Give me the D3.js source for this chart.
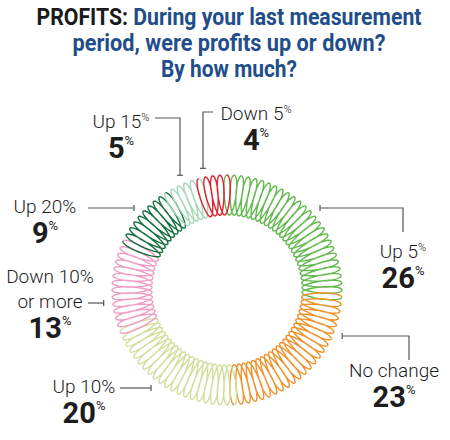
<!DOCTYPE html>
<html>
<head>
<meta charset="UTF-8">
<script src="https://d3js.org/d3.v7.min.js"></script>
<style>html,body{margin:0;padding:0;background:#fff;}</style>
</head>
<body>
<div id="container"></div>
<script>
// data, clockwise from 12 o'clock
const categories = ["Up 5%", "No change", "Up 10%", "Down 10% or more", "Up 20%", "Up 15%", "Down 5%"];
const values = [26, 23, 20, 13, 9, 5, 4];
const colors = ["#63b94f", "#f0922b", "#cfe09e", "#f09cc4", "#17703f", "#a8d8b8", "#e3212f"];
const titleLines = ["During your last measurement", "period, were profits up or down?", "By how much?"];

const width = 450, height = 440;
const cx = 227, cy = 290;
const inner = 75, outer = 115;
const loops = 100;     // one coil per percent
const sway = 4.5;      // sideways swing of each coil (px)

// label placement (text lines, and leader drawn toward the ring)
const labelLayout = [
  {x: 403, y: 258, lines: [["Up 5", true]], leader: [[403, 232], [403, 208]], to: "h"},
  {x: 394, y: 377, lines: [["No change", false]], leader: [[409, 360], [409, 336]], to: "h"},
  {x: 84, y: 393, lines: [["Up 10%", false]], leader: [[120, 388]], to: "h"},
  {x: 50, y: 283, lines: [["Down 10%", false], ["or more", false]], leader: [[88, 303]], to: "h"},
  {x: 45, y: 213, lines: [["Up 20%", false]], leader: [[88, 208]], to: "h"},
  {x: 121, y: 128, lines: [["Up 15", true]], leader: [[155, 118], [180, 118]], to: "v"},
  {x: 256, y: 120, lines: [["Down 5", true]], leader: [[213, 112], [203, 112]], to: "v"}
];

const svg = d3.select("#container").append("svg")
  .attr("width", width)
  .attr("height", height)
  .style("font-family", "Roboto, 'Open Sans', sans-serif");

// title
const title = svg.append("g");
const t1 = title.append("text").attr("x", 229).attr("y", 25)
  .attr("text-anchor", "middle").attr("font-size", 23).attr("font-weight", 700)
  .attr("textLength", 385).attr("lengthAdjust", "spacingAndGlyphs");
t1.append("tspan").attr("fill", "#1a1a1a").text("PROFITS: ");
t1.append("tspan").attr("fill", "#1f4e8a").text(titleLines[0]);
[[titleLines[1], 51, 313], [titleLines[2], 77, 136]].forEach(function (l) {
  title.append("text").attr("x", 229).attr("y", l[1])
    .attr("text-anchor", "middle").attr("font-size", 23).attr("font-weight", 700)
    .attr("fill", "#1f4e8a")
    .attr("textLength", l[2]).attr("lengthAdjust", "spacingAndGlyphs")
    .text(l[0]);
});

// coil ring
const pie = d3.pie().sort(null).startAngle(0).endAngle(2 * Math.PI);
const arcs = pie(values);
const rScale = d3.scaleLinear().domain([-1, 1]).range([inner, outer]);
const rMid = (inner + outer) / 2;
const coil = d3.lineRadial()
  .angle(d => d.a)
  .radius(d => d.r)
  .curve(d3.curveLinear);

function coilPoints(a0, a1) {
  const pts = [];
  const n = Math.ceil((a1 - a0) / (2 * Math.PI) * loops * 48);
  for (let i = 0; i <= n; i++) {
    const t = a0 + (a1 - a0) * i / n;
    const ph = loops * t;
    pts.push({a: t - (sway / rMid) * Math.sin(ph), r: rScale(Math.cos(ph))});
  }
  return pts;
}

const ring = svg.append("g").attr("transform", "translate(" + cx + "," + cy + ")");
ring.selectAll("path")
  .data(arcs)
  .enter()
  .append("path")
  .attr("d", d => coil(coilPoints(d.startAngle, d.endAngle)))
  .attr("fill", "none")
  .attr("stroke", (d, i) => colors[i])
  .attr("stroke-width", 1.4);

// labels
const leaderR = 124;
const lab = svg.append("g");
labelLayout.forEach(function (L, i) {
  let y = L.y;
  L.lines.forEach(function (ln) {
    const t = lab.append("text").attr("x", L.x).attr("y", y)
      .attr("text-anchor", "middle").attr("font-size", 19).attr("font-weight", 300)
      .attr("fill", "#1d1d1d");
    t.append("tspan").text(ln[0]);
    if (ln[1]) t.append("tspan").attr("font-size", 11).attr("dy", -7).text("%");
    y += 25;
  });
  const big = lab.append("text").attr("x", L.x).attr("y", y + 5)
    .attr("text-anchor", "middle").attr("font-size", 29).attr("font-weight", 700)
    .attr("fill", "#1d1d1d");
  big.append("tspan").text(values[i]);
  big.append("tspan").attr("font-size", 13).attr("font-weight", 400).attr("dy", -13).text("%");

  // leader to ring edge
  const pts = L.leader.slice();
  const last = pts[pts.length - 1];
  let end, tick;
  if (L.to === "h") {
    const dx = Math.sqrt(leaderR * leaderR - Math.pow(last[1] - cy, 2));
    end = [last[0] > cx ? cx + dx : cx - dx, last[1]];
    tick = [[end[0], end[1] - 3], [end[0], end[1] + 3]];
  } else {
    const dy = Math.sqrt(leaderR * leaderR - Math.pow(last[0] - cx, 2));
    end = [last[0], last[1] < cy ? cy - dy : cy + dy];
    tick = [[end[0] - 3, end[1]], [end[0] + 3, end[1]]];
  }
  pts.push(end);
  lab.append("path").attr("d", d3.line()(pts))
    .attr("fill", "none").attr("stroke", "#555").attr("stroke-width", 1.2);
  lab.append("path").attr("d", d3.line()(tick))
    .attr("fill", "none").attr("stroke", "#555").attr("stroke-width", 1.2);
});
</script>
</body>
</html>
